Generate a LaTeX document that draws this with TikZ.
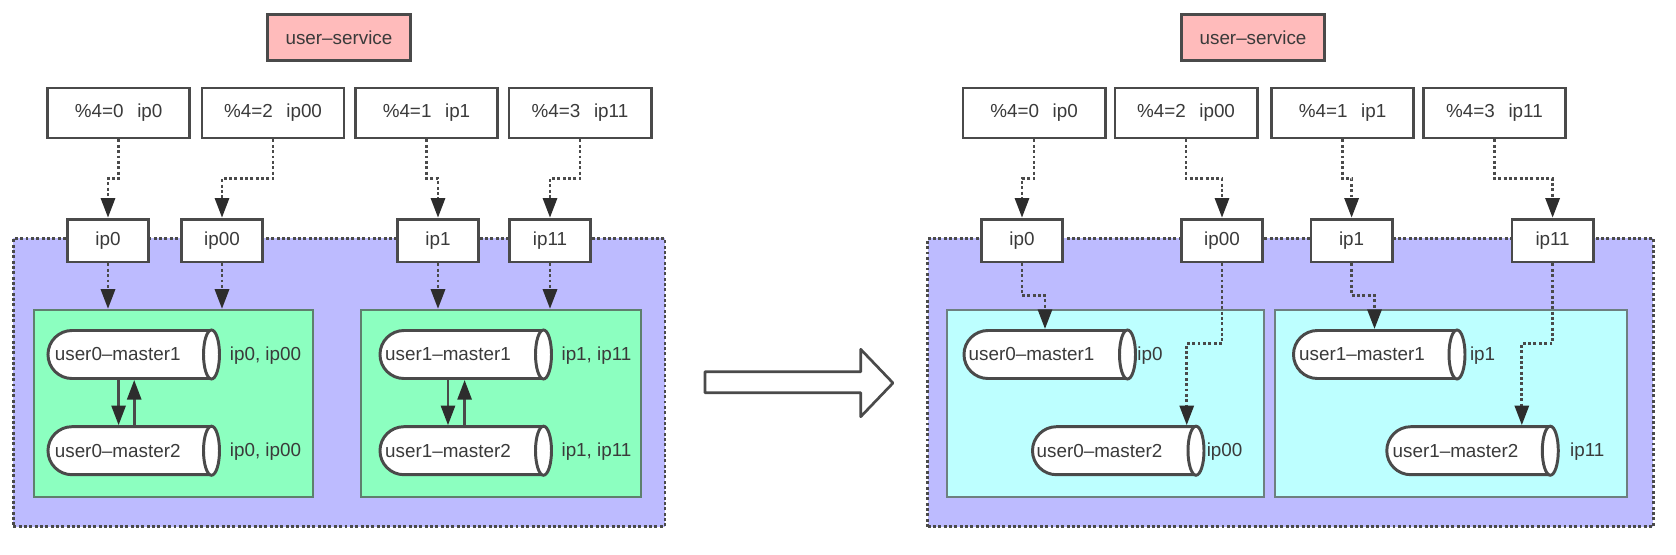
\documentclass[tikz,border=0pt]{standalone}
\usepackage{fontspec}
\setmainfont{Liberation Sans}
\usepackage{tikz}
\usetikzlibrary{arrows.meta}
\usetikzlibrary{shapes.misc}

\definecolor{zonecol}{HTML}{BDBBFF}
\definecolor{hostcol}{HTML}{8CFFC0}
\definecolor{shardcol}{HTML}{BDFFFF}
\definecolor{svccol}{HTML}{FFBBBB}
\definecolor{edgecol}{HTML}{4A4A4A}
\definecolor{tipcol}{HTML}{2D2D2D}
\definecolor{textcol}{HTML}{3A3A3A}

\tikzset{
  every node/.style={font=\fontsize{13.4}{16}\selectfont, text=textcol},
  box/.style={draw=edgecol, line width=2.1pt, fill=white, inner sep=0pt},
  svcbox/.style={box, fill=svccol, minimum width=3.57cm, minimum height=1.15cm},
  rulebox/.style={box, minimum width=3.55cm, minimum height=1.25cm},
  ipbox/.style={box, minimum width=2.03cm, minimum height=1.07cm},
  zonebox/.style={draw=edgecol, line width=2.1pt, dash pattern=on 2.1pt off 1.7pt, fill=zonecol, minimum height=7.2cm, inner sep=0pt},
  hostbox/.style={draw=edgecol!70!hostcol, line width=1.4pt, fill=hostcol, minimum height=4.68cm, inner sep=0pt},
  shardbox/.style={hostbox, draw=edgecol!70!shardcol, fill=shardcol},
  masterbox/.style={rounded rectangle, rounded rectangle east arc=none, draw=edgecol, line width=2.1pt, fill=white, minimum width=4.05cm, minimum height=1.2cm, inner sep=0pt},
  mastercap/.style={draw=edgecol, line width=2.1pt, fill=white},
  dotlink/.style={draw=edgecol, line width=2.1pt, dash pattern=on 2.1pt off 1.7pt, -{Triangle[length=14pt, width=10pt, color=tipcol, sep=0pt]}},
  syncline/.style={draw=edgecol, line width=1.9pt, -{Triangle[length=14pt, width=10pt, color=tipcol, sep=0pt]}}
}

\newcommand{\master}[5]{
  \node [masterbox] (#1) at (#2, #3) {};
  \draw [mastercap] (#1.east) ellipse (8 and 24.5);
  \node at (#4, #3) {#5};
}

\begin{document}
\begin{tikzpicture}[x=0.025cm, y=-0.025cm]
  \useasboundingbox (0, 0) rectangle (1676, 554);

  \node [zonebox, minimum width=16.29cm] (zoneL) at (339.1, 382.5) {};
  \node [zonebox, minimum width=18.14cm] (zoneR) at (1290.5, 382.5) {};

  \node [hostbox, minimum width=6.98cm] (hostA) at (173.5, 403.5) {};
  \node [hostbox, minimum width=6.98cm] (hostB) at (501, 403.5) {};
  \node [shardbox, minimum width=7.9cm] (shardA) at (1105.5, 403.5) {};
  \node [shardbox, minimum width=8.79cm] (shardB) at (1450.7, 403.5) {};

  \node [svcbox] (svcL) at (339, 37.5) {user–service};
  \node [svcbox] (svcR) at (1253, 37.5) {user–service};

  \node [rulebox] (ruleA) at (118.7, 113) {\%4=0\ \ \,ip0};
  \node [rulebox] (ruleB) at (273, 113) {\%4=2\ \ \,ip00};
  \node [rulebox] (ruleC) at (426.5, 113) {\%4=1\ \ \,ip1};
  \node [rulebox] (ruleD) at (580, 113) {\%4=3\ \ \,ip11};
  \node [rulebox] (ruleE) at (1034, 113) {\%4=0\ \ \,ip0};
  \node [rulebox] (ruleF) at (1186, 113) {\%4=2\ \ \,ip00};
  \node [rulebox] (ruleG) at (1342.5, 113) {\%4=1\ \ \,ip1};
  \node [rulebox] (ruleH) at (1494.5, 113) {\%4=3\ \ \,ip11};

  \node [ipbox] (ipA) at (108, 240.6) {ip0};
  \node [ipbox] (ipB) at (222, 240.6) {ip00};
  \node [ipbox] (ipC) at (438, 240.6) {ip1};
  \node [ipbox] (ipD) at (550, 240.6) {ip11};
  \node [ipbox] (ipE) at (1022, 240.6) {ip0};
  \node [ipbox] (ipF) at (1222, 240.6) {ip00};
  \node [ipbox] (ipG) at (1351.6, 240.6) {ip1};
  \node [ipbox] (ipH) at (1552.6, 240.6) {ip11};

  \master{mA}{129}{354.5}{117.7}{user0–master1}
  \master{mB}{129}{450.7}{117.7}{user0–master2}
  \master{mC}{461}{354.5}{448}{user1–master1}
  \master{mD}{461}{450.7}{448}{user1–master2}
  \master{mE}{1045}{354.5}{1031.5}{user0–master1}
  \master{mF}{1113.5}{450.7}{1099.5}{user0–master2}
  \master{mG}{1374.5}{354.5}{1362}{user1–master1}
  \master{mH}{1467.8}{450.7}{1455.5}{user1–master2}

  \node (labA) at (265.5, 355.5) {ip0, ip00};
  \node (labB) at (265.5, 451.5) {ip0, ip00};
  \node (labC) at (596.5, 355.5) {ip1, ip11};
  \node (labD) at (596.5, 451.5) {ip1, ip11};
  \node (labE) at (1150, 355.5) {ip0};
  \node (labF) at (1224.6, 451.5) {ip00};
  \node (labG) at (1482.6, 355.5) {ip1};
  \node (labH) at (1587.3, 451.5) {ip11};

  \draw [dotlink] (ruleA.south) -- ++(0, 39) -| (ipA.north);
  \draw [dotlink] (ruleB.south) -- ++(0, 39) -| (ipB.north);
  \draw [dotlink] (ruleC.south) -- ++(0, 39) -| (ipC.north);
  \draw [dotlink] (ruleD.south) -- ++(0, 39) -| (ipD.north);
  \draw [dotlink] (ruleE.south) -- ++(0, 39) -| (ipE.north);
  \draw [dotlink] (ruleF.south) -- ++(0, 39) -| (ipF.north);
  \draw [dotlink] (ruleG.south) -- ++(0, 39) -| (ipG.north);
  \draw [dotlink] (ruleH.south) -- ++(0, 39) -| (ipH.north);

  \draw [dotlink] (ipA.south) -- (ipA.south |- hostA.north);
  \draw [dotlink] (ipB.south) -- (ipB.south |- hostA.north);
  \draw [dotlink] (ipC.south) -- (ipC.south |- hostB.north);
  \draw [dotlink] (ipD.south) -- (ipD.south |- hostB.north);

  \draw [dotlink] (ipE.south) -- ++(0, 32) -| (mE.north);
  \draw [dotlink] (ipF.south) -- ++(0, 80) -| ([xshift=1.83cm]mF.north);
  \draw [dotlink] (ipG.south) -- ++(0, 32) -| (mG.north);
  \draw [dotlink] (ipH.south) -- ++(0, 80) -| ([xshift=1.35cm]mH.north);

  \draw [syncline] ([xshift=-0.26cm]mA.south) -- ([xshift=-0.26cm]mB.north);
  \draw [syncline] ([xshift=0.13cm]mB.north) -- ([xshift=0.13cm]mA.south);
  \draw [syncline] ([xshift=-0.325cm]mC.south) -- ([xshift=-0.325cm]mD.north);
  \draw [syncline] ([xshift=0.09cm]mD.north) -- ([xshift=0.09cm]mC.south);

  \draw [draw=edgecol, line width=1.9pt, fill=white, line join=round]
  (705, 371.7) -- (860.7, 371.7) -- (860.7, 349.3) -- (893, 383)
  -- (860.7, 416.7) -- (860.7, 392.7) -- (705, 392.7) -- cycle;
\end{tikzpicture}
\end{document}
